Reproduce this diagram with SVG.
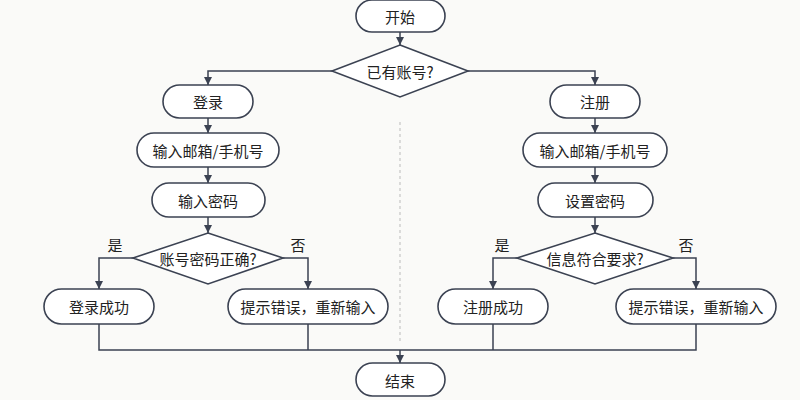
<svg xmlns="http://www.w3.org/2000/svg" width="800" height="400" viewBox="0 0 800 400">
<style>
.n{fill:#fff;stroke:#3b4252;stroke-width:1.6}
.t{font-family:"Noto Sans CJK SC","Noto Sans",sans-serif;font-size:15px;fill:#222;text-anchor:middle;dominant-baseline:central}
.c{fill:none;stroke:#3b4252;stroke-width:1.5}
</style>
<defs><marker id="a" viewBox="0 0 10 10" refX="10" refY="5" markerWidth="8" markerHeight="8" orient="auto" markerUnits="userSpaceOnUse"><path d="M0,0L10,5L0,10z" fill="#3b4252"/></marker></defs>
<rect width="800" height="400" fill="#fafaf8"/>
<line x1="400" y1="122" x2="400" y2="342" stroke="#bbb" stroke-width="1" stroke-dasharray="3,3"/>
<g id="connectors">
<path class="c" marker-end="url(#a)" d="M400,32V45"/>
<path class="c" marker-end="url(#a)" d="M332,71H208V85"/>
<path class="c" marker-end="url(#a)" d="M468,71H595V85"/>
<path class="c" marker-end="url(#a)" d="M208,118V133"/>
<path class="c" marker-end="url(#a)" d="M208,167V183"/>
<path class="c" marker-end="url(#a)" d="M208,217V233"/>
<path class="c" marker-end="url(#a)" d="M595,118V133"/>
<path class="c" marker-end="url(#a)" d="M595,167V183"/>
<path class="c" marker-end="url(#a)" d="M595,217V233"/>
<path class="c" marker-end="url(#a)" d="M133,258H99V289"/>
<path class="c" marker-end="url(#a)" d="M283,258H308V289"/>
<path class="c" marker-end="url(#a)" d="M517,258H493V289"/>
<path class="c" marker-end="url(#a)" d="M673,258H696V289"/>
<path class="c" d="M99,324V350H696V324M308,324V350M493,324V350"/>
<path class="c" marker-end="url(#a)" d="M400,350V363"/>
</g>
<text class="t" x="115" y="244">是</text>
<text class="t" x="298" y="244">否</text>
<text class="t" x="502" y="244">是</text>
<text class="t" x="686" y="244">否</text>
<g id="start"><rect class="n" x="356" y="0" width="89" height="32" rx="16"/><text class="t" x="400" y="16">开始</text></g>
<g id="d1"><path class="n" d="M400,45L468,71L400,97L332,71z"/><text class="t" x="400" y="71">已有账号?</text></g>
<g id="login"><rect class="n" x="163" y="85" width="90" height="33" rx="16.5"/><text class="t" x="208" y="101">登录</text></g>
<g id="l2"><rect class="n" x="137" y="133" width="142" height="34" rx="17"/><text class="t" x="208" y="150">输入邮箱/手机号</text></g>
<g id="l3"><rect class="n" x="152" y="183" width="113" height="34" rx="17"/><text class="t" x="208" y="200">输入密码</text></g>
<g id="d2"><path class="n" d="M208,233L283,258L208,284L133,258z"/><text class="t" x="208" y="258">账号密码正确?</text></g>
<g id="l4"><rect class="n" x="44" y="289" width="110" height="35" rx="17.5"/><text class="t" x="99" y="306">登录成功</text></g>
<g id="l5"><rect class="n" x="228" y="289" width="160" height="35" rx="17.5"/><text class="t" x="308" y="306">提示错误，重新输入</text></g>
<g id="reg"><rect class="n" x="550" y="85" width="90" height="33" rx="16.5"/><text class="t" x="595" y="101">注册</text></g>
<g id="r2"><rect class="n" x="523" y="133" width="144" height="34" rx="17"/><text class="t" x="595" y="150">输入邮箱/手机号</text></g>
<g id="r3"><rect class="n" x="538" y="183" width="115" height="34" rx="17"/><text class="t" x="595" y="200">设置密码</text></g>
<g id="d3"><path class="n" d="M595,233L673,258L595,284L517,258z"/><text class="t" x="595" y="258">信息符合要求?</text></g>
<g id="r4"><rect class="n" x="438" y="289" width="110" height="35" rx="17.5"/><text class="t" x="493" y="306">注册成功</text></g>
<g id="r5"><rect class="n" x="616" y="289" width="160" height="35" rx="17.5"/><text class="t" x="696" y="306">提示错误，重新输入</text></g>
<g id="end"><rect class="n" x="356" y="363" width="89" height="33" rx="16.5"/><text class="t" x="400" y="380">结束</text></g>
</svg>
